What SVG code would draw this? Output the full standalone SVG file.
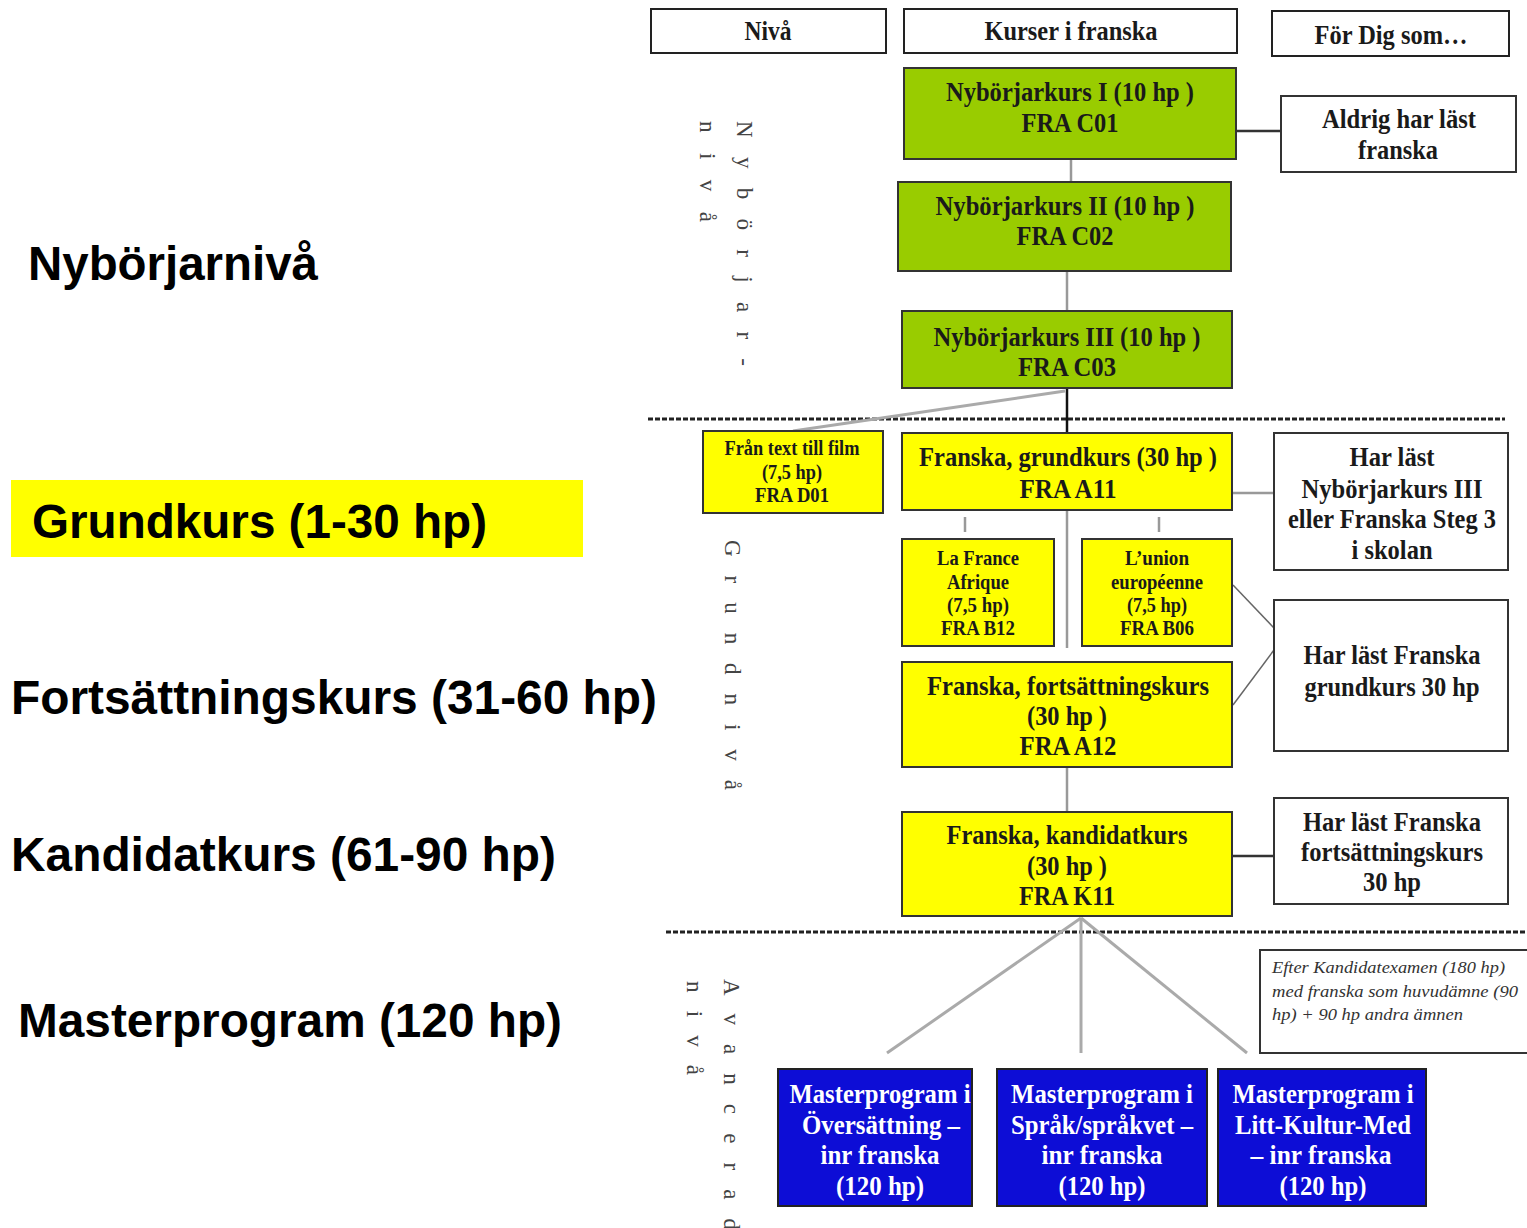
<svg xmlns="http://www.w3.org/2000/svg" width="1527" height="1228" viewBox="0 0 1527 1228">
<style>
.lbl{font-family:"Liberation Sans",Arial,sans-serif;font-weight:bold;font-size:48px;fill:#000}
.t{font-family:"Liberation Serif","Times New Roman",serif;font-weight:bold;font-size:27px;fill:#1a1a1a;text-anchor:middle}
.s{font-family:"Liberation Serif","Times New Roman",serif;font-weight:bold;font-size:20px;fill:#1a1a1a;text-anchor:middle}
.w{fill:#fff}
.it{font-family:"Liberation Serif","Times New Roman",serif;font-style:italic;font-size:17px;fill:#333}
.v{font-family:"Liberation Serif","Times New Roman",serif;font-size:23px;fill:#444}
.hdr{fill:#fff;stroke:#222;stroke-width:2}
.box{fill:#fff;stroke:#333;stroke-width:2}
.grn{fill:#99cc00;stroke:#333;stroke-width:2}
.yel{fill:#ffff00;stroke:#333;stroke-width:2}
.blu{fill:#0d0dd6;stroke:#222;stroke-width:2}
.dk{stroke:#333;stroke-width:2.5;fill:none}
.gr{stroke:#999;stroke-width:2.5;fill:none}
.lg{stroke:#aaa;stroke-width:3;fill:none}
.dash{stroke:#222;stroke-width:3;stroke-dasharray:5 2;fill:none}
</style>

<g id="left-labels">
  <text class="lbl" x="28" y="280" textLength="290" lengthAdjust="spacingAndGlyphs">Nybörjarnivå</text>
  <rect x="11" y="480" width="572" height="77" fill="#ffff00"/>
  <text class="lbl" x="32" y="538" textLength="455" lengthAdjust="spacingAndGlyphs">Grundkurs (1-30 hp)</text>
  <text class="lbl" x="11" y="714" textLength="646" lengthAdjust="spacingAndGlyphs">Fortsättningskurs (31-60 hp)</text>
  <text class="lbl" x="11" y="871" textLength="545" lengthAdjust="spacingAndGlyphs">Kandidatkurs (61-90 hp)</text>
  <text class="lbl" x="18" y="1037" textLength="544" lengthAdjust="spacingAndGlyphs">Masterprogram (120 hp)</text>
</g>

<g id="level-labels">
  <text class="v" transform="translate(737,121) rotate(90)" textLength="245" lengthAdjust="spacing">N y b ö r j a r -</text>
  <text class="v" transform="translate(700,121) rotate(90)" textLength="101" lengthAdjust="spacing">n i v å</text>
  <text class="v" transform="translate(725,540) rotate(90)" textLength="250" lengthAdjust="spacing">G r u n d n i v å</text>
  <text class="v" transform="translate(724,979) rotate(90)" textLength="251" lengthAdjust="spacing">A v a n c e r a d</text>
  <text class="v" transform="translate(687,981) rotate(90)" textLength="94" lengthAdjust="spacing">n i v å</text>
</g>

<g id="dividers">
  <line class="dash" x1="648" y1="419" x2="1505" y2="419"/>
  <line class="dash" x1="666" y1="932" x2="1525" y2="932"/>
</g>

<g id="connectors">
  <line class="gr" x1="1071" y1="159" x2="1071" y2="182"/>
  <line class="gr" x1="1067" y1="271" x2="1067" y2="311"/>
  <line class="dk" x1="1236" y1="131" x2="1281" y2="131"/>
  <line class="lg" x1="1065" y1="391" x2="793" y2="431"/>
  <line stroke="#111" stroke-width="2.5" x1="1067" y1="388" x2="1067" y2="433"/>
  <line class="gr" x1="1232" y1="493" x2="1274" y2="493"/>
  <line class="gr" x1="965" y1="517" x2="965" y2="532"/>
  <line class="gr" x1="1159" y1="517" x2="1159" y2="532"/>
  <line class="gr" x1="1067" y1="510" x2="1067" y2="648"/>
  <line stroke="#666" stroke-width="1.5" x1="1233" y1="585" x2="1274" y2="628"/>
  <line stroke="#666" stroke-width="1.5" x1="1233" y1="705" x2="1274" y2="650"/>
  <line class="gr" x1="1067" y1="767" x2="1067" y2="812"/>
  <line class="dk" x1="1232" y1="856" x2="1274" y2="856"/>
  <line class="lg" x1="1081" y1="918" x2="887" y2="1053"/>
  <line class="lg" x1="1081" y1="918" x2="1081" y2="1053"/>
  <line class="lg" x1="1081" y1="918" x2="1247" y2="1053"/>
</g>

<g id="hdr-niva">
  <rect class="hdr" x="651" y="9" width="235" height="44"/>
  <text class="t" x="768" y="40" textLength="47" lengthAdjust="spacingAndGlyphs">Nivå</text>
</g>
<g id="hdr-kurser">
  <rect class="hdr" x="904" y="9" width="333" height="44"/>
  <text class="t" x="1071" y="40" textLength="173" lengthAdjust="spacingAndGlyphs">Kurser i franska</text>
</g>
<g id="hdr-for-dig">
  <rect class="hdr" x="1272" y="11" width="237" height="45"/>
  <text class="t" x="1391" y="44" textLength="153" lengthAdjust="spacingAndGlyphs">För Dig som…</text>
</g>

<g id="fra-c01">
  <rect class="grn" x="904" y="68" width="332" height="91"/>
  <text class="t" x="1070" y="101" textLength="248" lengthAdjust="spacingAndGlyphs">Nybörjarkurs I (10 hp )</text>
  <text class="t" x="1070" y="132" textLength="97" lengthAdjust="spacingAndGlyphs">FRA C01</text>
</g>
<g id="fra-c02">
  <rect class="grn" x="898" y="182" width="333" height="89"/>
  <text class="t" x="1065" y="215" textLength="259" lengthAdjust="spacingAndGlyphs">Nybörjarkurs II (10 hp )</text>
  <text class="t" x="1065" y="245" textLength="97" lengthAdjust="spacingAndGlyphs">FRA C02</text>
</g>
<g id="fra-c03">
  <rect class="grn" x="902" y="311" width="330" height="77"/>
  <text class="t" x="1067" y="346" textLength="267" lengthAdjust="spacingAndGlyphs">Nybörjarkurs III (10 hp )</text>
  <text class="t" x="1067" y="376" textLength="98" lengthAdjust="spacingAndGlyphs">FRA C03</text>
</g>
<g id="aldrig">
  <rect class="box" x="1281" y="96" width="235" height="76"/>
  <text class="t" x="1399" y="128" textLength="154" lengthAdjust="spacingAndGlyphs">Aldrig har läst</text>
  <text class="t" x="1398" y="159" textLength="80" lengthAdjust="spacingAndGlyphs">franska</text>
</g>

<g id="fra-d01">
  <rect class="yel" x="703" y="431" width="180" height="82"/>
  <text class="s" x="792" y="455" textLength="135" lengthAdjust="spacingAndGlyphs">Från text till film</text>
  <text class="s" x="792" y="479" textLength="60" lengthAdjust="spacingAndGlyphs">(7,5 hp)</text>
  <text class="s" x="792" y="502" textLength="74" lengthAdjust="spacingAndGlyphs">FRA D01</text>
</g>
<g id="fra-a11">
  <rect class="yel" x="902" y="433" width="330" height="77"/>
  <text class="t" x="1068" y="466" textLength="298" lengthAdjust="spacingAndGlyphs">Franska, grundkurs (30 hp )</text>
  <text class="t" x="1068" y="498" textLength="97" lengthAdjust="spacingAndGlyphs">FRA A11</text>
</g>
<g id="har-last-nyb3">
  <rect class="box" x="1274" y="433" width="234" height="137"/>
  <text class="t" x="1392" y="466" textLength="85" lengthAdjust="spacingAndGlyphs">Har läst</text>
  <text class="t" x="1392" y="498" textLength="181" lengthAdjust="spacingAndGlyphs">Nybörjarkurs III</text>
  <text class="t" x="1392" y="528" textLength="208" lengthAdjust="spacingAndGlyphs">eller Franska Steg 3</text>
  <text class="t" x="1392" y="559" textLength="81" lengthAdjust="spacingAndGlyphs">i skolan</text>
</g>
<g id="fra-b12">
  <rect class="yel" x="902" y="539" width="152" height="107"/>
  <text class="s" x="978" y="565" textLength="82" lengthAdjust="spacingAndGlyphs">La France</text>
  <text class="s" x="978" y="589" textLength="62" lengthAdjust="spacingAndGlyphs">Afrique</text>
  <text class="s" x="978" y="612" textLength="62" lengthAdjust="spacingAndGlyphs">(7,5 hp)</text>
  <text class="s" x="978" y="635" textLength="74" lengthAdjust="spacingAndGlyphs">FRA B12</text>
</g>
<g id="fra-b06">
  <rect class="yel" x="1082" y="539" width="150" height="107"/>
  <text class="s" x="1157" y="565" textLength="64" lengthAdjust="spacingAndGlyphs">L’union</text>
  <text class="s" x="1157" y="589" textLength="92" lengthAdjust="spacingAndGlyphs">européenne</text>
  <text class="s" x="1157" y="612" textLength="60" lengthAdjust="spacingAndGlyphs">(7,5 hp)</text>
  <text class="s" x="1157" y="635" textLength="74" lengthAdjust="spacingAndGlyphs">FRA B06</text>
</g>
<g id="har-last-grund">
  <rect class="box" x="1274" y="600" width="234" height="151"/>
  <text class="t" x="1392" y="664" textLength="177" lengthAdjust="spacingAndGlyphs">Har läst Franska</text>
  <text class="t" x="1392" y="696" textLength="175" lengthAdjust="spacingAndGlyphs">grundkurs 30 hp</text>
</g>
<g id="fra-a12">
  <rect class="yel" x="902" y="662" width="330" height="105"/>
  <text class="t" x="1068" y="695" textLength="282" lengthAdjust="spacingAndGlyphs">Franska, fortsättningskurs</text>
  <text class="t" x="1067" y="725" textLength="80" lengthAdjust="spacingAndGlyphs">(30 hp )</text>
  <text class="t" x="1068" y="755" textLength="97" lengthAdjust="spacingAndGlyphs">FRA A12</text>
</g>
<g id="fra-k11">
  <rect class="yel" x="902" y="812" width="330" height="104"/>
  <text class="t" x="1067" y="844" textLength="241" lengthAdjust="spacingAndGlyphs">Franska, kandidatkurs</text>
  <text class="t" x="1067" y="875" textLength="80" lengthAdjust="spacingAndGlyphs">(30 hp )</text>
  <text class="t" x="1067" y="905" textLength="96" lengthAdjust="spacingAndGlyphs">FRA K11</text>
</g>
<g id="har-last-forts">
  <rect class="box" x="1274" y="798" width="234" height="106"/>
  <text class="t" x="1392" y="831" textLength="178" lengthAdjust="spacingAndGlyphs">Har läst Franska</text>
  <text class="t" x="1392" y="861" textLength="182" lengthAdjust="spacingAndGlyphs">fortsättningskurs</text>
  <text class="t" x="1392" y="891" textLength="58" lengthAdjust="spacingAndGlyphs">30 hp</text>
</g>
<g id="efter-kandidat">
  <path d="M1531 950 H1260 V1053 H1531" fill="#fff" stroke="#333" stroke-width="2"/>
  <text class="it" x="1272" y="973" textLength="233" lengthAdjust="spacingAndGlyphs">Efter Kandidatexamen (180 hp)</text>
  <text class="it" x="1272" y="997" textLength="246" lengthAdjust="spacingAndGlyphs">med franska som huvudämne (90</text>
  <text class="it" x="1272" y="1020" textLength="191" lengthAdjust="spacingAndGlyphs">hp) + 90 hp andra ämnen</text>
</g>

<g id="master-oversattning">
  <rect class="blu" x="778" y="1069" width="194" height="137"/>
  <text class="t w" x="880" y="1103" textLength="181" lengthAdjust="spacingAndGlyphs">Masterprogram i</text>
  <text class="t w" x="881" y="1134" textLength="158" lengthAdjust="spacingAndGlyphs">Översättning –</text>
  <text class="t w" x="880" y="1164" textLength="119" lengthAdjust="spacingAndGlyphs">inr franska</text>
  <text class="t w" x="880" y="1195" textLength="88" lengthAdjust="spacingAndGlyphs">(120 hp)</text>
</g>
<g id="master-sprak">
  <rect class="blu" x="997" y="1069" width="210" height="137"/>
  <text class="t w" x="1102" y="1103" textLength="182" lengthAdjust="spacingAndGlyphs">Masterprogram i</text>
  <text class="t w" x="1102" y="1134" textLength="182" lengthAdjust="spacingAndGlyphs">Språk/språkvet –</text>
  <text class="t w" x="1102" y="1164" textLength="121" lengthAdjust="spacingAndGlyphs">inr franska</text>
  <text class="t w" x="1102" y="1195" textLength="87" lengthAdjust="spacingAndGlyphs">(120 hp)</text>
</g>
<g id="master-litt">
  <rect class="blu" x="1218" y="1069" width="208" height="137"/>
  <text class="t w" x="1323" y="1103" textLength="181" lengthAdjust="spacingAndGlyphs">Masterprogram i</text>
  <text class="t w" x="1323" y="1134" textLength="176" lengthAdjust="spacingAndGlyphs">Litt-Kultur-Med</text>
  <text class="t w" x="1321" y="1164" textLength="141" lengthAdjust="spacingAndGlyphs">– inr franska</text>
  <text class="t w" x="1323" y="1195" textLength="87" lengthAdjust="spacingAndGlyphs">(120 hp)</text>
</g>
</svg>
